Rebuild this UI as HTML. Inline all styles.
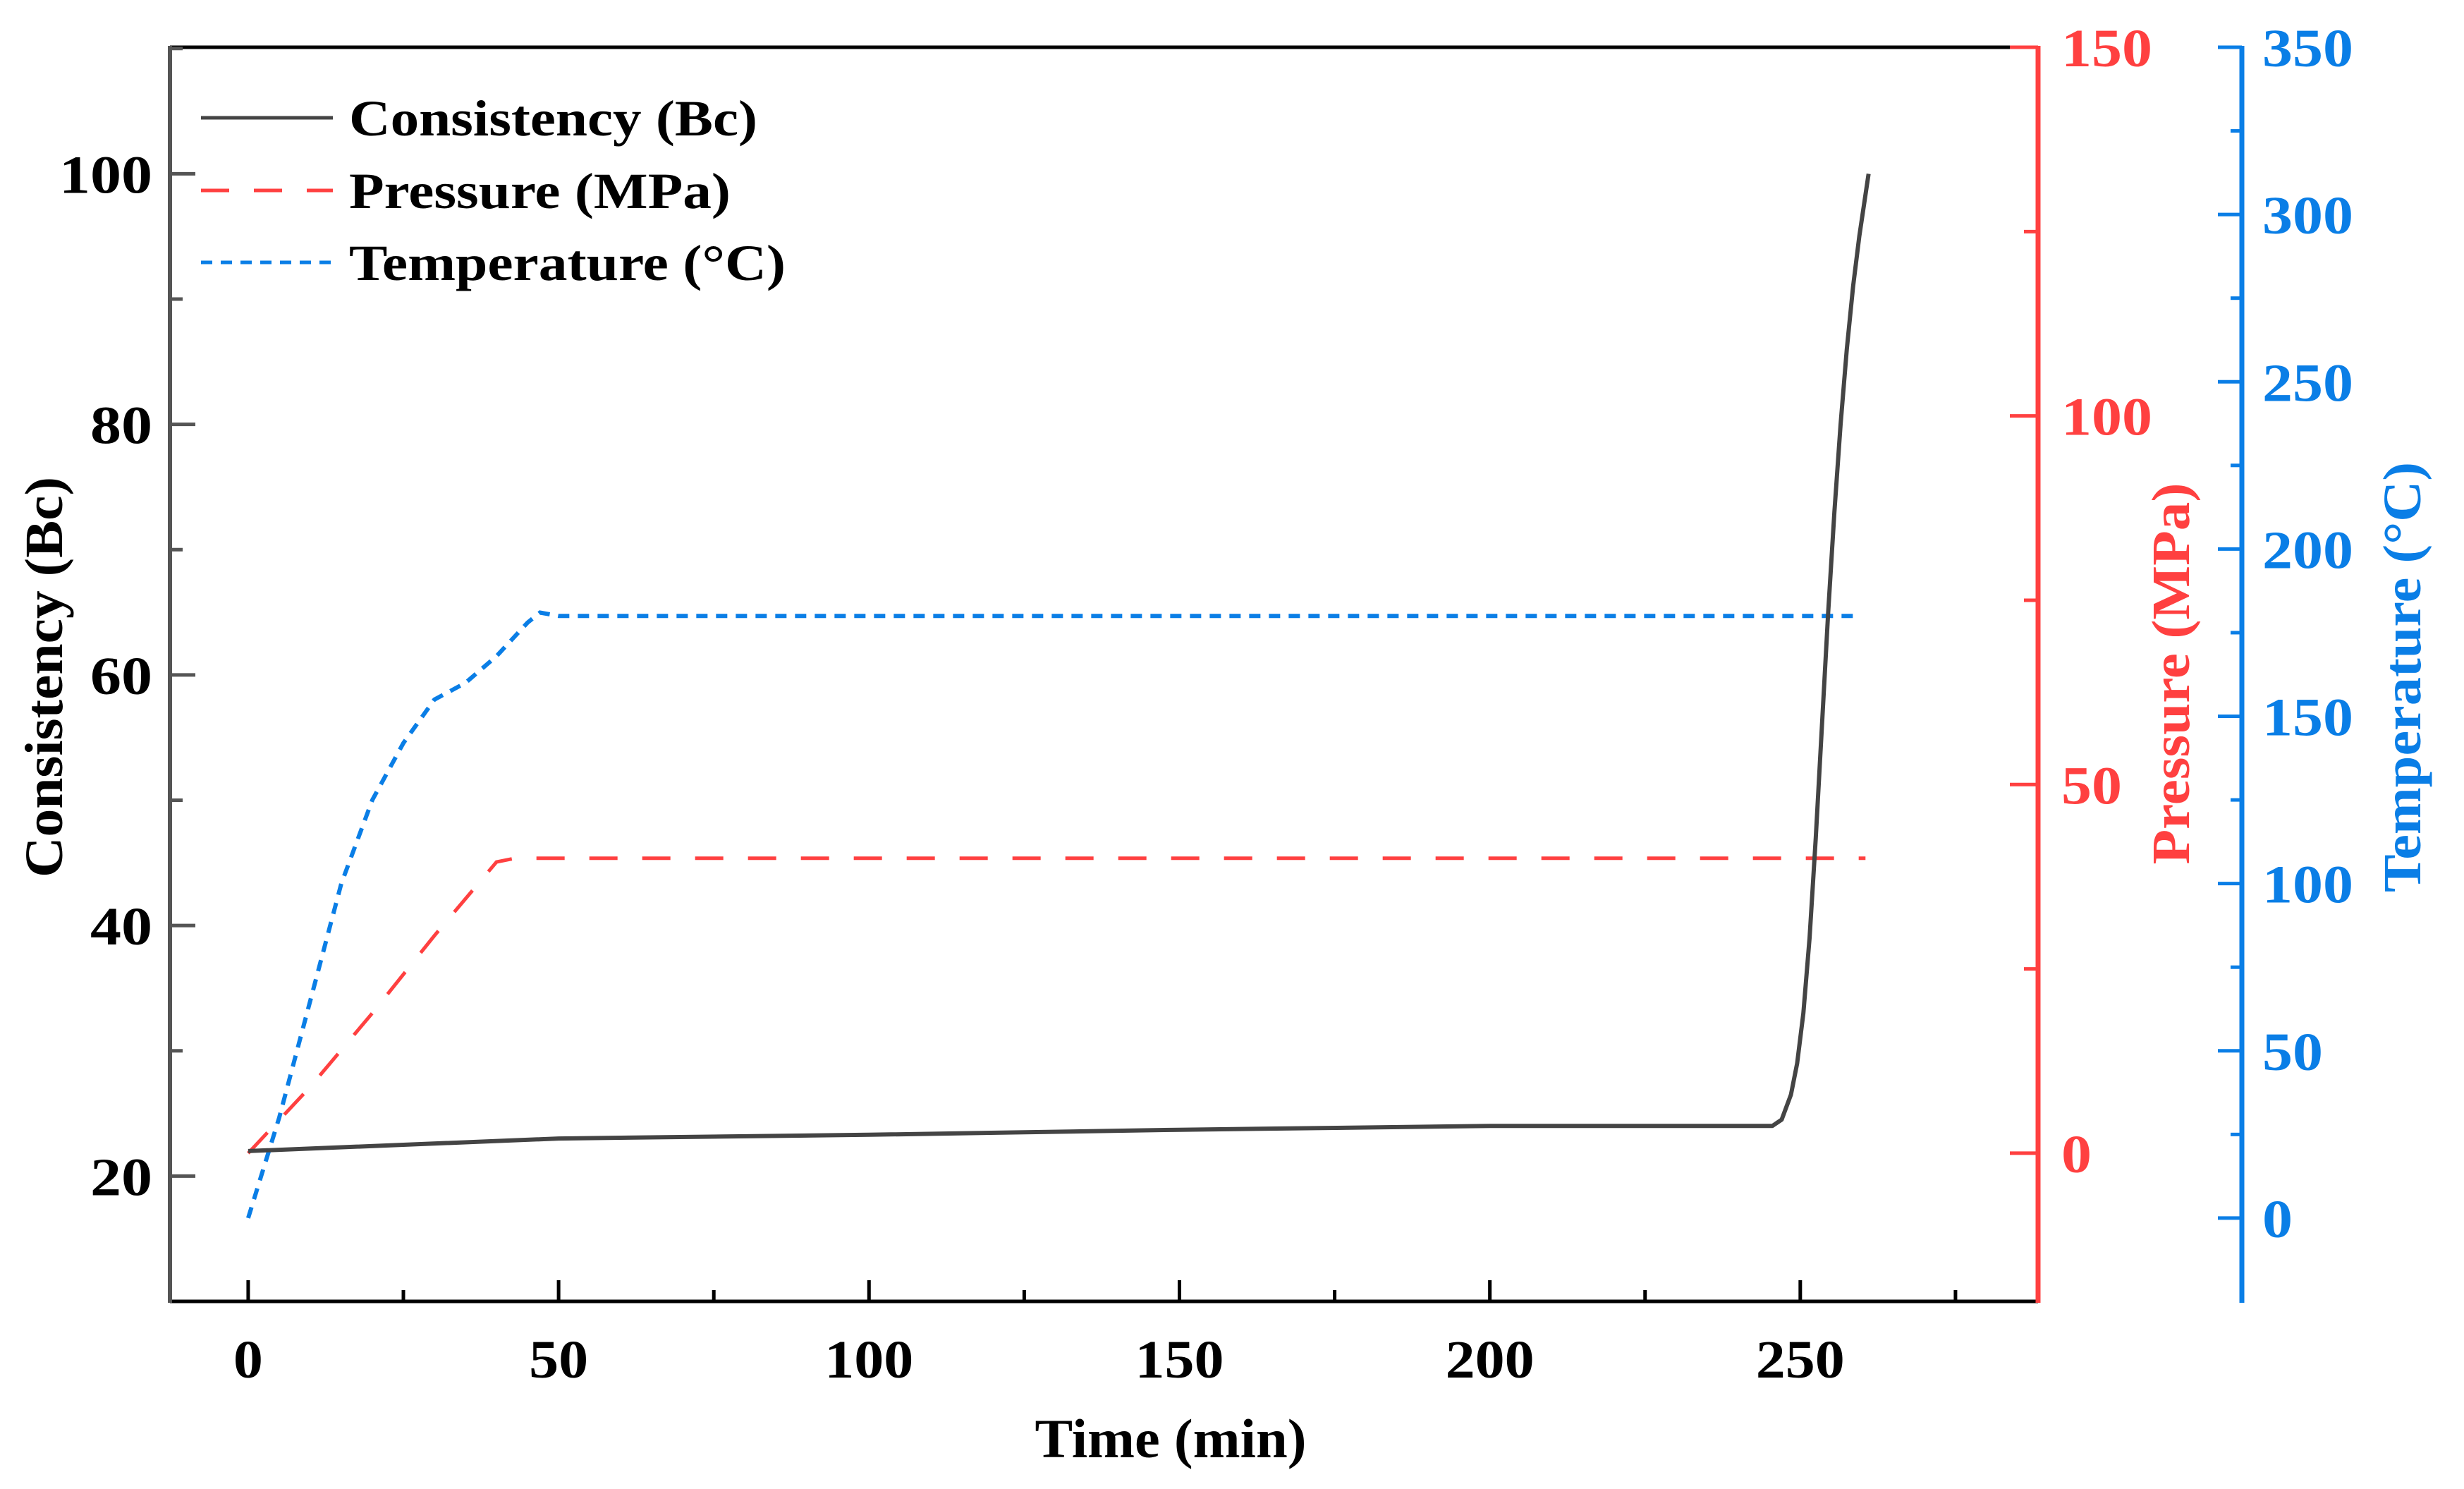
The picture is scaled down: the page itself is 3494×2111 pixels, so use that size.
<!DOCTYPE html>
<html><head><meta charset="utf-8"><style>
html,body{margin:0;padding:0;background:#fff;}
svg{display:block;font-family:"Liberation Serif",serif;font-weight:bold;}
</style></head><body>
<svg id="chart" width="3494" height="2111" viewBox="0 0 3494 2111" xmlns="http://www.w3.org/2000/svg"></svg>
<script>
const xTicks=[0,50,100,150,200,250];
const yTicks=[20,40,60,80,100];
const pTicks=[0,50,100,150];
const tTicks=[0,50,100,150,200,250,300,350];
const consT=[0,50,100,150,200,245.5,247,248.5,249.5,250.5,251.5,252.5,253.5,254.5,255.5,256.5,257.5,258.5,259.5,261];
const consV=[22,23,23.3,23.7,24,24,24.5,26.5,29,33,39,47,56,65,73,80,86,91,95,100];
const presT=[0,10,20,30,40,43,260.5];
const presV=[0,9,19,29.5,39.5,40,40];
const tempT=[0,5,10,15,20,25,30,35,40,45,47,50,258.5];
const tempV=[0,30,65,100,125,142,155,160,168,178,181,180,180];

const L=241,R=2890,T=67,B=1845,BX=3179;
const x=v=>L+(v+12.6)/(288.3+12.6)*(R-L);
const yC=v=>B-(v-10)/100.1*(B-T);
const yP=v=>B-(v+20.1)/170.1*(B-T);
const yT=v=>B-(v+24.9)/374.9*(B-T);
const svg=document.getElementById('chart');
const NS='http://www.w3.org/2000/svg';
function mk(tag,attrs,parent){const e=document.createElementNS(NS,tag);for(const k in attrs)e.setAttribute(k,attrs[k]);(parent||svg).appendChild(e);return e;}
const RED='#ff4040',BLUE='#0a7ee6';

let e;
e=mk('line',{x1:L,y1:T,x2:R,y2:T,stroke:'#000','stroke-width':5});

e=mk('line',{x1:L,y1:B,x2:R,y2:B,stroke:'#000','stroke-width':5});

e=mk('line',{x1:L,y1:T-2,x2:L,y2:B+2,stroke:'#555','stroke-width':6});

e=mk('line',{x1:R,y1:T-2,x2:R,y2:B+2,stroke:RED,'stroke-width':7});

e=mk('line',{x1:BX,y1:T-2,x2:BX,y2:B+2,stroke:BLUE,'stroke-width':7});


for(let i=0;i<xTicks.length;i++){const v=xTicks[i];
 e=mk('line',{x1:x(v),y1:B,x2:x(v),y2:B-30,stroke:'#000','stroke-width':5});
 
 e=mk('line',{x1:x(v+25),y1:B,x2:x(v+25),y2:B-16,stroke:'#000','stroke-width':5});
 
 e=mk('text',{x:x(v),y:1953,'text-anchor':'middle','font-size':76,fill:'#000',textLength:String(v).length*42,lengthAdjust:'spacingAndGlyphs'});e.textContent=v;
 }
for(let i=0;i<yTicks.length;i++){const v=yTicks[i];
 e=mk('line',{x1:L,y1:yC(v),x2:L+36,y2:yC(v),stroke:'#555','stroke-width':5});
 
 e=mk('line',{x1:L,y1:yC(v+10),x2:L+18,y2:yC(v+10),stroke:'#555','stroke-width':5});
 
 e=mk('text',{x:216,y:yC(v)+27,'text-anchor':'end','font-size':76,fill:'#000',textLength:String(v).length*44,lengthAdjust:'spacingAndGlyphs'});e.textContent=v;
 }
for(let i=0;i<pTicks.length;i++){const v=pTicks[i];
 e=mk('line',{x1:R,y1:yP(v),x2:R-40,y2:yP(v),stroke:RED,'stroke-width':5});
 
 if(v<150){e=mk('line',{x1:R,y1:yP(v+25),x2:R-20,y2:yP(v+25),stroke:RED,'stroke-width':5});
 }
 e=mk('text',{x:2923,y:yP(v)+27,'font-size':76,fill:RED,textLength:String(v).length*43,lengthAdjust:'spacingAndGlyphs'});e.textContent=v;
 }
for(let i=0;i<tTicks.length;i++){const v=tTicks[i];
 e=mk('line',{x1:BX,y1:yT(v),x2:BX-34,y2:yT(v),stroke:BLUE,'stroke-width':5});
 
 e=mk('line',{x1:BX,y1:yT(v+25),x2:BX-16,y2:yT(v+25),stroke:BLUE,'stroke-width':5});
 
 e=mk('text',{x:3208,y:yT(v)+27,'font-size':76,fill:BLUE,textLength:String(v).length*43,lengthAdjust:'spacingAndGlyphs'});e.textContent=v;
 }

e=mk('text',{x:1660,y:2066,'text-anchor':'middle','font-size':78,fill:'#000',textLength:385,lengthAdjust:'spacingAndGlyphs'});e.textContent='Time (min)';

e=mk('text',{x:0,y:0,'text-anchor':'middle','font-size':76,fill:'#000',textLength:568,lengthAdjust:'spacingAndGlyphs',transform:'translate(88,960) rotate(-90)'});e.textContent='Consistency (Bc)';

e=mk('text',{x:0,y:0,'text-anchor':'middle','font-size':76,fill:RED,textLength:541,lengthAdjust:'spacingAndGlyphs',transform:'translate(3104,955) rotate(-90)'});e.textContent='Pressure (MPa)';

e=mk('text',{x:0,y:0,'text-anchor':'middle','font-size':76,fill:BLUE,textLength:610,lengthAdjust:'spacingAndGlyphs',transform:'translate(3432,960) rotate(-90)'});e.textContent='Temperature (°C)';


function pts(ts,vs,fy){return ts.map((t,i)=>x(t).toFixed(1)+','+fy(vs[i]).toFixed(1)).join(' ');}
e=mk('polyline',{points:pts(tempT,tempV,yT),fill:'none',stroke:BLUE,'stroke-width':6,'stroke-dasharray':'16 12'});

e=mk('polyline',{points:pts(presT,presV,yP),fill:'none',stroke:RED,'stroke-width':5,'stroke-dasharray':'40 35'});

e=mk('polyline',{points:pts(consT,consV,yC),fill:'none',stroke:'#444','stroke-width':6,'stroke-linejoin':'round'});


const lg=mk('g',{});

const items=[['Consistency (Bc)','#444','none',167,579],['Pressure (MPa)',RED,'40 35',270,541],['Temperature (°C)',BLUE,'16 12',372,619]];
for(const it of items){
 e=mk('line',{x1:285,y1:it[3],x2:472,y2:it[3],stroke:it[1],'stroke-width':5,'stroke-dasharray':it[2]},lg);
 
 e=mk('text',{x:495,y:it[3]+25,'font-size':72,fill:'#000',textLength:it[4],lengthAdjust:'spacingAndGlyphs'},lg);e.textContent=it[0];
 }
</script>
</body></html>
